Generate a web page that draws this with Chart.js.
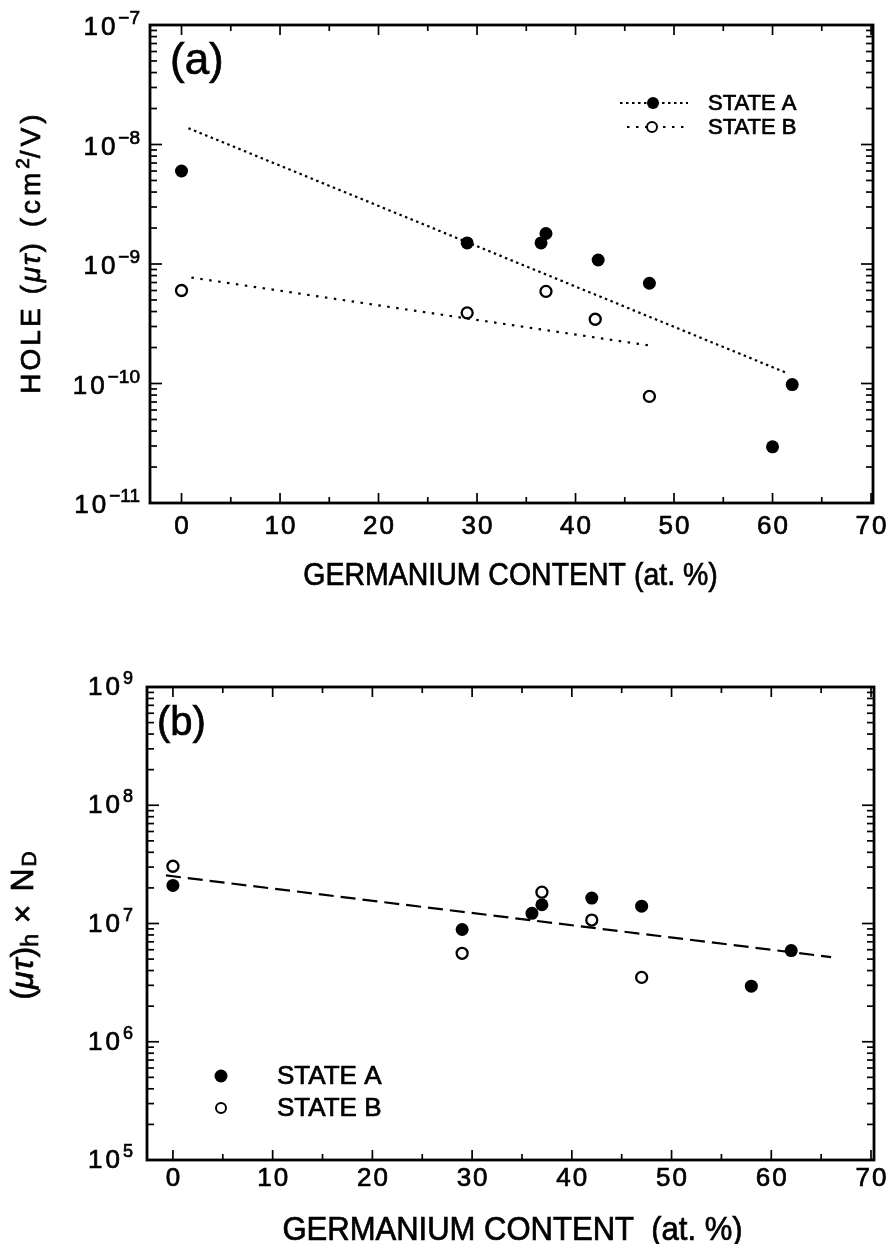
<!DOCTYPE html>
<html>
<head>
<meta charset="utf-8">
<script src="https://cdn.jsdelivr.net/npm/chart.js@4/dist/chart.umd.min.js"></script>
<style>
  html, body { margin: 0; padding: 0; background: #fff; }
  #wrap { position: relative; width: 893px; height: 1244px; }
  canvas { position: absolute; left: 0; }
  #chartA { top: 0; }
  #chartB { top: 622px; }
</style>
</head>
<body>
<div id="wrap">
  <canvas id="chartA" width="893" height="622"></canvas>
  <canvas id="chartB" width="893" height="622"></canvas>
</div>
<script>
// ---- panel (a): hole mu-tau product vs Ge content ----
const geHoleA = [0, 29, 36.5, 37, 42.3, 47.5, 60, 62];
const holeStateA = [6.0e-9, 1.5e-9, 1.5e-9, 1.8e-9, 1.08e-9, 6.9e-10, 2.95e-11, 9.8e-11];
const geHoleB = [0, 29, 37, 42, 47.5];
const holeStateB = [6.0e-10, 3.9e-10, 5.9e-10, 3.45e-10, 7.8e-11];
const fitHoleAx = [0.7, 61.5];
const fitHoleA = [1.37e-8, 1.22e-10];
const fitHoleBx = [1, 47.5];
const fitHoleB = [7.7e-10, 2.08e-10];

// ---- panel (b): (mu-tau)_h x N_D vs Ge content ----
const geNdA = [0, 29, 36, 37, 42, 47, 58, 62];
const ndStateA = [2.1e7, 8.9e6, 1.22e7, 1.44e7, 1.64e7, 1.4e7, 2.95e6, 5.9e6];
const geNdB = [0, 29, 37, 42, 47];
const ndStateB = [3.05e7, 5.6e6, 1.84e7, 1.07e7, 3.5e6];
const fitNdx = [-0.7, 66];
const fitNd = [2.55e7, 5.2e6];

// ---- axis ticks ----
const xTickLabels = [0, 10, 20, 30, 40, 50, 60, 70];
const xMinorTicks = [5, 15, 25, 35, 45, 55, 65];
const yExpHole = [-7, -8, -9, -10, -11];
const yExpNd = [9, 8, 7, 6, 5];

const FONT = '"Liberation Sans", Arial, sans-serif';
const pts = (xs, ys) => xs.map((x, i) => ({ x, y: ys[i] }));

// filled text with a thin outline so it reads a bit heavier
function ink(ctx, text, x, y) {
  ctx.fillText(text, x, y);
  ctx.lineWidth = 0.7;
  ctx.strokeText(text, x, y);
}

// draw a row of text runs (mixed fonts / super- and subscripts) centred on x
function drawRuns(ctx, runs, x, y, rotate, sx) {
  ctx.save();
  ctx.translate(x, y);
  if (rotate) ctx.rotate(-Math.PI / 2);
  ctx.scale(sx || 1, 1);
  ctx.textBaseline = "alphabetic";
  ctx.textAlign = "left";
  let total = 0;
  runs.forEach(r => {
    ctx.font = r.font;
    ctx.letterSpacing = r.ls || "0px";
    r.w = ctx.measureText(r.text).width;
    total += r.w;
  });
  let cx = -total / 2;
  runs.forEach(r => {
    ctx.font = r.font;
    ctx.letterSpacing = r.ls || "0px";
    ink(ctx, r.text, cx, r.dy || 0);
    cx += r.w;
  });
  ctx.restore();
}

function dot(ctx, x, y, r, filled) {
  ctx.save();
  ctx.beginPath();
  ctx.arc(x, y, r, 0, Math.PI * 2);
  if (filled) { ctx.fillStyle = "#000"; ctx.fill(); }
  else { ctx.fillStyle = "#fff"; ctx.fill(); ctx.lineWidth = 2; ctx.strokeStyle = "#000"; ctx.stroke(); }
  ctx.restore();
}

// frame, inward ticks, tick labels, titles and legend
function framePlugin(cfg) {
  return {
    id: "frame",
    afterDraw(chart) {
      const { ctx, chartArea: a, scales } = chart;
      const xs = scales.x, ys = scales.y;
      ctx.save();
      ctx.strokeStyle = "#000";
      ctx.fillStyle = "#000";

      // ticks on all four sides
      ctx.lineWidth = 1.7;
      const tick = (x1, y1, x2, y2) => { ctx.beginPath(); ctx.moveTo(x1, y1); ctx.lineTo(x2, y2); ctx.stroke(); };
      xTickLabels.forEach(v => {
        const px = xs.getPixelForValue(v);
        tick(px, a.bottom, px, a.bottom - 10);
        tick(px, a.top, px, a.top + 10);
      });
      xMinorTicks.forEach(v => {
        const px = xs.getPixelForValue(v);
        tick(px, a.bottom, px, a.bottom - 6);
        tick(px, a.top, px, a.top + 6);
      });
      const exps = cfg.yExps.slice().sort((p, q) => p - q);
      exps.forEach((e, i) => {
        const py = ys.getPixelForValue(Math.pow(10, e));
        tick(a.left, py, a.left + 12, py);
        tick(a.right, py, a.right - 12, py);
        if (i === exps.length - 1) return;
        for (let m = 2; m <= 9; m++) {
          const pm = ys.getPixelForValue(m * Math.pow(10, e));
          tick(a.left, pm, a.left + 7, pm);
          tick(a.right, pm, a.right - 7, pm);
        }
      });

      // frame
      ctx.lineWidth = 2.8;
      ctx.strokeRect(a.left, a.top, a.right - a.left, a.bottom - a.top);

      // x tick labels
      ctx.font = "26px " + FONT;
      ctx.textAlign = "center";
      ctx.textBaseline = "alphabetic";
      ctx.letterSpacing = "2px";
      xTickLabels.forEach(v => {
        ink(ctx, String(v), xs.getPixelForValue(v) + 1, a.bottom + cfg.xLabelDy);
      });

      // y tick labels: 10 with superscript exponent
      cfg.yExps.forEach(e => {
        const py = ys.getPixelForValue(Math.pow(10, e));
        const sup = String(e).replace("-", "\u2212");
        ctx.textAlign = "left";
        ctx.font = cfg.supFont;
        ctx.letterSpacing = "0px";
        const sw = ctx.measureText(sup).width;
        ctx.font = "26px " + FONT;
        ctx.letterSpacing = "3px";
        const bw = ctx.measureText("10").width;
        const right = a.left - cfg.yLabelGap;
        ink(ctx, "10", right - sw - bw, py + cfg.yBaseDy);
        ctx.font = cfg.supFont;
        ctx.letterSpacing = "0px";
        ink(ctx, sup, right - sw, py + cfg.yBaseDy - 11);
      });

      // axis titles
      drawRuns(ctx, cfg.xTitle, (a.left + a.right) / 2 + cfg.xTitleDx, a.bottom + cfg.xTitleDy, false, cfg.xTitleSx);
      drawRuns(ctx, cfg.yTitle, cfg.yTitleX, (a.top + a.bottom) / 2 + cfg.yTitleDy, true, 1);

      // panel letter
      ctx.letterSpacing = "0px";
      ctx.font = cfg.panelFont;
      ctx.textAlign = "left";
      ink(ctx, cfg.panel, cfg.panelX, cfg.panelY);

      cfg.legend(ctx);
      ctx.restore();
    }
  };
}

function lineSample(ctx, x1, x2, y, dash) {
  ctx.save();
  ctx.setLineDash(dash);
  ctx.lineWidth = 2;
  ctx.beginPath(); ctx.moveTo(x1, y); ctx.lineTo(x2, y); ctx.stroke();
  ctx.restore();
}

const dashA = [2.5, 3.5];
const dashB = [2.5, 6.5];
const dashNd = [15, 7];

function makeChart(id, datasets, xRange, yRange, padding, cfg) {
  return new Chart(document.getElementById(id).getContext("2d"), {
    type: "scatter",
    data: { datasets },
    options: {
      responsive: false,
      animation: false,
      layout: { padding },
      plugins: { legend: { display: false }, tooltip: { enabled: false } },
      scales: {
        x: { type: "linear", min: xRange[0], max: xRange[1], display: false },
        y: { type: "logarithmic", min: yRange[0], max: yRange[1], display: false }
      }
    },
    plugins: [framePlugin(cfg)]
  });
}

const filled = (data, r) => ({ data, showLine: false, pointRadius: r, pointBackgroundColor: "#000", pointBorderWidth: 0 });
const open = (data, r) => ({ data, showLine: false, pointRadius: r, pointBackgroundColor: "#fff", pointBorderColor: "#000", pointBorderWidth: 2.3 });
const fit = (data, dash) => ({ data, showLine: true, pointRadius: 0, borderColor: "#000", borderWidth: 2.2, borderDash: dash });

makeChart("chartA", [
  fit(pts(fitHoleAx, fitHoleA), dashA),
  fit(pts(fitHoleBx, fitHoleB), dashB),
  open(pts(geHoleB, holeStateB), 5.5),
  filled(pts(geHoleA, holeStateA), 6.5)
], [-3.2, 70.2], [1e-11, 1e-7], { left: 150, right: 20, top: 25, bottom: 119 }, {
  yExps: yExpHole,
  yLabelGap: 10,
  yBaseDy: 10,
  supFont: "19px " + FONT,
  xLabelDy: 31,
  xTitleDx: -1,
  xTitleDy: 82,
  xTitleSx: 0.89,
  xTitle: [{ text: "GERMANIUM CONTENT (at. %)", font: "32px " + FONT }],
  yTitleX: 40,
  yTitleDy: -12,
  yTitle: [
    { text: "HOLE (", font: "28px " + FONT, ls: "3px" },
    { text: "\u03BC\u03C4", font: "italic 28px " + FONT, ls: "2px" },
    { text: ") (cm", font: "28px " + FONT, ls: "4px" },
    { text: "2", font: "19px " + FONT, dy: -11 },
    { text: "/V)", font: "28px " + FONT, ls: "4px" }
  ],
  panel: "(a)",
  panelFont: "44px " + FONT,
  panelX: 170,
  panelY: 74,
  legend(ctx) {
    ctx.font = "22px " + FONT;
    ctx.letterSpacing = "0px";
    ctx.textAlign = "left";
    ctx.textBaseline = "middle";
    lineSample(ctx, 620, 688, 103, dashA);
    dot(ctx, 653, 103, 6, true);
    ink(ctx, "STATE A", 708, 104);
    lineSample(ctx, 627, 688, 127, dashB);
    dot(ctx, 652, 127, 5, false);
    ink(ctx, "STATE B", 708, 128);
  }
});

makeChart("chartB", [
  fit(pts(fitNdx, fitNd), dashNd),
  open(pts(geNdB, ndStateB), 5.5),
  filled(pts(geNdA, ndStateA), 6.5)
], [-2.6, 70.3], [1e5, 1e9], { left: 147, right: 19, top: 65, bottom: 84 }, {
  yExps: yExpNd,
  yLabelGap: 14,
  yBaseDy: 8,
  supFont: "18px " + FONT,
  xLabelDy: 26,
  xTitleDx: 2,
  xTitleDy: 80,
  xTitleSx: 0.94,
  xTitle: [{ text: "GERMANIUM CONTENT  (at. %)", font: "33px " + FONT }],
  yTitleX: 33,
  yTitleDy: 2,
  yTitle: [
    { text: "(", font: "32px " + FONT },
    { text: "\u03BC\u03C4", font: "italic 32px " + FONT, ls: "1px" },
    { text: ")", font: "32px " + FONT },
    { text: "h", font: "23px " + FONT, dy: 5 },
    { text: " \u00D7 N", font: "32px " + FONT, ls: "2px" },
    { text: "D", font: "21px " + FONT, dy: 3 }
  ],
  panel: "(b)",
  panelFont: "40px " + FONT,
  panelX: 157,
  panelY: 735 - 622,
  legend(ctx) {
    ctx.font = "26px " + FONT;
    ctx.letterSpacing = "0px";
    ctx.textAlign = "left";
    ctx.textBaseline = "middle";
    dot(ctx, 221, 1076 - 622, 6.5, true);
    ink(ctx, "STATE A", 277, 1077 - 622);
    dot(ctx, 221, 1108 - 622, 5, false);
    ink(ctx, "STATE B", 277, 1109 - 622);
  }
});
</script>
</body>
</html>
